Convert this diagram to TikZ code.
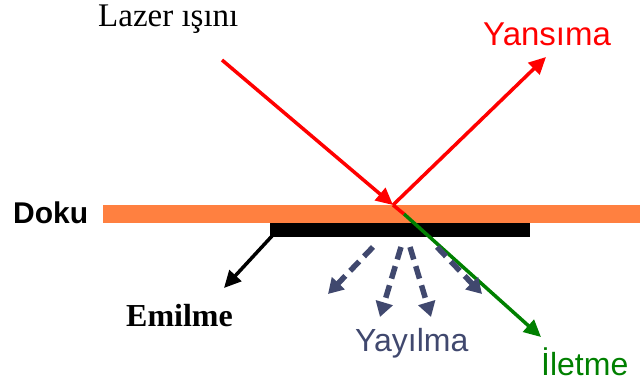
\documentclass[tikz,border=0pt]{standalone}
\usepackage{fontspec}
\setmainfont{Liberation Serif}
\setsansfont{Liberation Sans}
\usetikzlibrary{arrows.meta}
\definecolor{tissue}{RGB}{255,128,64}
\definecolor{scat}{RGB}{64,72,110}
\definecolor{trans}{RGB}{0,128,0}
\tikzset{
  lbl/.style={inner sep=0pt, anchor=base west},
  ray/.style={line width=3.5pt, -{Triangle[length=17pt,width=16pt]}},
  scatter/.style={line width=5.5pt, color=scat, dash pattern=on 13pt off 7pt, -{Triangle[length=15pt,width=17pt]}},
}
\begin{document}
\begin{tikzpicture}[x=1pt,y=-1pt]
\useasboundingbox (0,0) rectangle (640,383);
% tissue and absorber
\fill[tissue] (103,205) rectangle (640,223);
\fill[black] (270,223) rectangle (530,237);
% points
\coordinate (src) at (222,60);
\coordinate (hit) at (393,205);
\coordinate (refl) at (546,57);
\coordinate (mid) at (404,214);
\coordinate (tr) at (541,337);
\coordinate (corner) at (272,236);
\coordinate (abs) at (224,288);
% labels
\node[lbl, font=\fontsize{33}{33}\selectfont] (lazer) at (98,26) {Lazer ışını};
\node[lbl, font=\fontsize{33}{33}\selectfont\sffamily, text=red] (yansima) at (483,45) {Yansıma};
\node[lbl, font=\fontsize{30}{30}\selectfont\sffamily\bfseries] (doku) at (13,223) {Doku};
\node[lbl, font=\fontsize{32}{32}\selectfont\bfseries] (emilme) at (126,326) {Emilme};
\node[lbl, font=\fontsize{32}{32}\selectfont\sffamily, text=scat] (yayilma) at (355,351) {Yayılma};
\node[lbl, font=\fontsize{32}{32}\selectfont\sffamily, text=trans] (iletme) at (541,375) {İletme};
% rays
\draw[ray, red] (src) -- (hit);
\draw[ray, red] (hit) -- (refl);
\draw[line width=3.5pt, red] (hit) -- (mid);
\draw[ray, trans] (mid) -- (tr);
\draw[ray, black] (corner) -- (abs);
% scattering
\coordinate (s1a) at (373,247); \coordinate (s1b) at (328,294);
\coordinate (s2a) at (401,247); \coordinate (s2b) at (380,317);
\coordinate (s3a) at (410,247); \coordinate (s3b) at (431,317);
\coordinate (s4a) at (437,247); \coordinate (s4b) at (482,294);
\draw[scatter] (s1a) -- (s1b);
\draw[scatter] (s2a) -- (s2b);
\draw[scatter] (s3a) -- (s3b);
\draw[scatter] (s4a) -- (s4b);
\end{tikzpicture}
\end{document}
